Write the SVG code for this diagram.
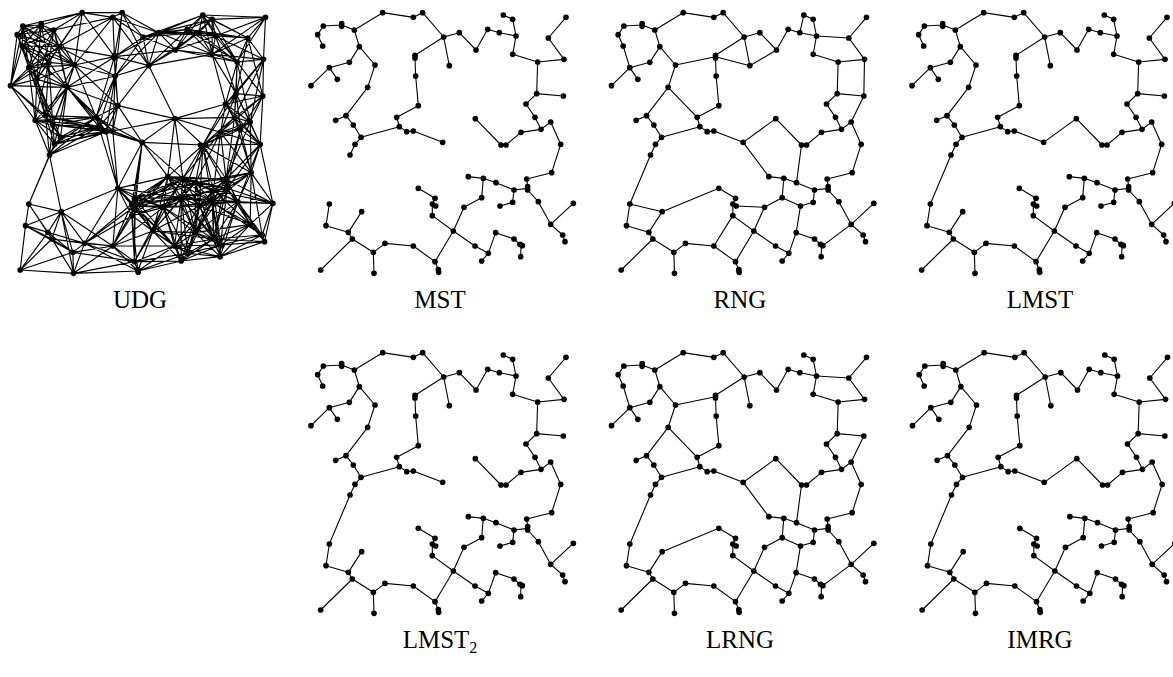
<svg xmlns="http://www.w3.org/2000/svg" xmlns:xlink="http://www.w3.org/1999/xlink" width="1173" height="677" viewBox="0 0 1173 677">
<style>
.e{fill:none;stroke:#000;stroke-width:3.3;stroke-linecap:round;stroke-linejoin:round}
.u{fill:none;stroke:#000;stroke-width:3.4;stroke-linecap:round;stroke-linejoin:round}
circle{fill:#000}
.l{font-family:"Liberation Serif","Times New Roman",serif;font-size:25px;fill:#000;text-anchor:middle}
</style>
<defs>
<g id="nodes">
<circle id="n-A" cx="236" cy="38" r="8.5"/><circle id="n-B" cx="328" cy="52" r="8.5"/><circle id="n-D" cx="356" cy="38" r="8.5"/><circle id="n-E" cx="419" cy="111" r="8.5"/><circle id="n-F" cx="466" cy="98" r="8.5"/><circle id="n-H" cx="436" cy="197" r="8.5"/><circle id="n-I" cx="516" cy="150" r="8.5"/><circle id="n-J" cx="551" cy="88" r="8.5"/><circle id="n-K" cx="586" cy="98" r="8.5"/><circle id="n-L" cx="636" cy="108" r="8.5"/><circle id="n-M" cx="626" cy="58" r="8.5"/><circle id="n-N" cx="598" cy="45" r="8.5"/><circle id="n-O" cx="626" cy="163" r="8.5"/><circle id="n-P" cx="701" cy="186" r="8.5"/><circle id="n-Q" cx="780" cy="178" r="8.5"/><circle id="n-R" cx="733" cy="114" r="8.5"/><circle id="n-S" cx="786" cy="52" r="8.5"/><circle id="n-T" cx="698" cy="281" r="8.5"/><circle id="n-U" cx="778" cy="288" r="8.5"/><circle id="n-V" cx="666" cy="312" r="8.5"/><circle id="n-W" cx="693" cy="352" r="8.5"/><circle id="n-X" cx="711" cy="388" r="8.5"/><circle id="n-Y" cx="740" cy="366" r="8.5"/><circle id="n-AD" cx="651" cy="397" r="8.5"/><circle id="n-AF" cx="514" cy="356" r="8.5"/><circle id="n-AG" cx="416" cy="427" r="8.5"/><circle id="n-AE1" cx="591" cy="435" r="8.5"/><circle id="n-AE2" cx="606" cy="435" r="8.5"/><circle id="n-Z" cx="770" cy="433" r="8.5"/><circle id="n-AA" cx="743" cy="518" r="8.5"/><circle id="n-AB" cx="668" cy="537" r="8.5"/><circle id="n-AC1" cx="671" cy="560" r="8.5"/><circle id="n-AC2" cx="671" cy="570" r="8.5"/><circle id="n-BG" cx="493" cy="530" r="8.5"/><circle id="n-BF" cx="538" cy="535" r="8.5"/><circle id="n-BH" cx="576" cy="548" r="8.5"/><circle id="n-BI" cx="630" cy="570" r="8.5"/><circle id="n-BJ" cx="626" cy="607" r="8.5"/><circle id="n-BK" cx="588" cy="618" r="8.5"/><circle id="n-BE" cx="533" cy="593" r="8.5"/><circle id="n-BD" cx="480" cy="622" r="8.5"/><circle id="n-BC" cx="448" cy="693" r="8.5"/><circle id="n-BT" cx="513" cy="738" r="8.5"/><circle id="n-BU" cx="553" cy="760" r="8.5"/><circle id="n-BV" cx="533" cy="783" r="8.5"/><circle id="n-BW" cx="575" cy="698" r="8.5"/><circle id="n-BX" cx="630" cy="717" r="8.5"/><circle id="n-BY1" cx="648" cy="733" r="8.5"/><circle id="n-BY2" cx="655" cy="737" r="8.5"/><circle id="n-BZ" cx="650" cy="770" r="8.5"/><circle id="n-BL" cx="703" cy="605" r="8.5"/><circle id="n-BM" cx="740" cy="673" r="8.5"/><circle id="n-BN" cx="808" cy="610" r="8.5"/><circle id="n-BO" cx="776" cy="705" r="8.5"/><circle id="n-BP" cx="783" cy="725" r="8.5"/><circle id="n-C" cx="151" cy="90" r="8.5"/><circle id="n-CA1" cx="113" cy="71" r="8.5"/><circle id="n-CA2" cx="113" cy="79" r="8.5"/><circle id="n-CB" cx="58" cy="78" r="8.5"/><circle id="n-CC" cx="41" cy="104" r="8.5"/><circle id="n-CD" cx="56" cy="138" r="8.5"/><circle id="n-CE" cx="166" cy="140" r="8.5"/><circle id="n-CF" cx="213" cy="195" r="8.5"/><circle id="n-CG" cx="191" cy="262" r="8.5"/><circle id="n-CH" cx="126" cy="347" r="8.5"/><circle id="n-CI" cx="95" cy="361" r="8.5"/><circle id="n-CJ" cx="148" cy="375" r="8.5"/><circle id="n-AN" cx="171" cy="412" r="8.5"/><circle id="n-CK" cx="136" cy="187" r="8.5"/><circle id="n-CL" cx="76" cy="203" r="8.5"/><circle id="n-CM" cx="100" cy="238" r="8.5"/><circle id="n-CN" cx="21" cy="257" r="8.5"/><circle id="n-G1" cx="333" cy="166" r="8.5"/><circle id="n-G2" cx="333" cy="174" r="8.5"/><circle id="n-AM" cx="335" cy="228" r="8.5"/><circle id="n-AL" cx="343" cy="317" r="8.5"/><circle id="n-AK" cx="278" cy="352" r="8.5"/><circle id="n-AJ" cx="286" cy="380" r="8.5"/><circle id="n-AI" cx="308" cy="395" r="8.5"/><circle id="n-AH" cx="328" cy="393" r="8.5"/><circle id="n-AO" cx="153" cy="433" r="8.5"/><circle id="n-AP" cx="138" cy="465" r="8.5"/><circle id="n-AQ" cx="76" cy="612" r="8.5"/><circle id="n-AR" cx="66" cy="677" r="8.5"/><circle id="n-AS" cx="133" cy="697" r="8.5"/><circle id="n-AT" cx="173" cy="635" r="8.5"/><circle id="n-AU" cx="145" cy="717" r="8.5"/><circle id="n-AV" cx="50" cy="810" r="8.5"/><circle id="n-AW" cx="208" cy="757" r="8.5"/><circle id="n-AX" cx="210" cy="820" r="8.5"/><circle id="n-AY" cx="243" cy="730" r="8.5"/><circle id="n-AZ" cx="328" cy="738" r="8.5"/><circle id="n-BA" cx="393" cy="785" r="8.5"/><circle id="n-BB1" cx="403" cy="809" r="8.5"/><circle id="n-BB2" cx="404" cy="817" r="8.5"/><circle id="n-BS1" cx="343" cy="565" r="8.5"/><circle id="n-BS2" cx="393" cy="595" r="8.5"/><circle id="n-BS3" cx="385" cy="612" r="8.5"/><circle id="n-BS4" cx="395" cy="618" r="8.5"/><circle id="n-BS5" cx="385" cy="647" r="8.5"/>
</g>
<path id="mst" class="e" d="M236 38L328 52L356 38L419 111M236 38L151 90L113 75L58 78L41 104L56 138M151 90L166 140L213 195L191 262L126 347L95 361M126 347L148 375L171 412L153 433L138 465M166 140L136 187L76 203L100 238M76 203L21 257M419 111L466 98L516 150L551 88L586 98L636 108L626 58L598 45M636 108L626 163L701 186L780 178L733 114L786 52M701 186L698 281L778 288M698 281L666 312L693 352L711 388L740 366L770 433L743 518L668 537L671 560M711 388L651 397L606 435M591 435L514 356M419 111L333 166M333 174L335 228L343 317L278 352L286 380L308 395L328 393L416 427M286 380L171 412M419 111L436 197M76 612L66 677L133 697L173 635M133 697L145 717L50 810M145 717L208 757L210 820M208 757L243 730L328 738L393 785L403 809M393 785L448 693L385 647L385 612L393 595L343 565M385 612L395 618M448 693L480 622L533 593L538 535L493 530M538 535L576 548L630 570L671 565M630 570L626 607L588 618M671 570L703 605L740 673L808 610M740 673L776 705L783 725M448 693L513 738L553 760L533 783M553 760L575 698L630 717L648 733M651 735L650 770M113 71L113 79M333 166L333 174M591 435L606 435M671 560L671 570M648 733L655 737M403 809L404 817"/>
<path id="lx1" class="e" d="M138 465L76 612"/>
<path id="lx2" class="e" d="M416 427L514 356"/>
<path id="rx" class="e" d="M56 138L76 203M213 195L333 170M191 262L278 352M636 108L733 114M778 288L740 366M416 427L493 530M591 435L576 548M173 635L343 565M533 593L588 618L575 698M655 737L740 673"/>
<path id="rx2" class="e" d="M333 170L436 197L516 150M598 45L586 98M780 178L778 288M76 612L173 635M328 738L385 647M395 618L480 622"/>
</defs>

<g id="panel-udg" transform="translate(3.5 0) scale(0.33333)">
<g id="udg-connectors">
<path class="u" d="M328 52L236 38L356 38M151 90L236 38L113 75M58 78L236 38L166 140M213 195L236 38L136 187M236 38L333 170
M356 38L328 52L419 111M466 98L328 52L436 197M151 90L328 52L166 140M213 195L328 52L333 170M328 52L335 228
M419 111L356 38L466 98M436 197L356 38L333 170M356 38L335 228
M466 98L419 111L551 88M586 98L419 111L598 45M436 197L419 111L516 150M333 170L419 111L335 228
M551 88L466 98L586 98M636 108L466 98L626 58M598 45L466 98L436 197M516 150L466 98L626 163M333 170L466 98L335 228
M516 150L436 197L551 88M586 98L436 197L626 163M514 356L436 197L333 170M335 228L436 197L343 317
M551 88L516 150L586 98M636 108L516 150L626 58M598 45L516 150L626 163M701 186L516 150L333 170
M586 98L551 88L636 108M626 58L551 88L598 45M626 163L551 88L701 186M551 88L733 114
M636 108L586 98L626 58M598 45L586 98L626 163M701 186L586 98L733 114
M626 58L636 108L598 45M626 163L636 108L701 186M733 114L636 108L786 52M780 178L636 108L698 281
M598 45L626 58L626 163M701 186L626 58L733 114M626 58L786 52
M626 163L598 45L701 186M733 114L598 45L786 52
M701 186L626 163L780 178M733 114L626 163L786 52M698 281L626 163L666 312
M780 178L701 186L733 114M786 52L701 186L698 281M778 288L701 186L666 312M693 352L701 186L740 366
M733 114L780 178L786 52M698 281L780 178L778 288M666 312L780 178L693 352M780 178L740 366
M786 52L733 114L698 281M733 114L778 288
M778 288L698 281L666 312M693 352L698 281L711 388M740 366L698 281L651 397M598 435L698 281L770 433
M666 312L778 288L693 352M711 388L778 288L740 366M651 397L778 288L770 433
M693 352L666 312L711 388M740 366L666 312L651 397M514 356L666 312L598 435M666 312L770 433
M711 388L693 352L740 366M651 397L693 352L770 433M598 435L693 352L514 356M743 518L693 352L668 537
M740 366L711 388L651 397M770 433L711 388L598 435M743 518L711 388L668 537M711 388L671 565
M651 397L740 366L770 433M598 435L740 366L743 518M740 366L668 537
M514 356L651 397L598 435M770 433L651 397L743 518M668 537L651 397L671 565M630 570L651 397L576 548M651 397L538 535
M416 427L514 356L598 435M493 530L514 356L538 535M343 317L514 356L328 393
M598 435L416 427L343 317M278 352L416 427L286 380M308 395L416 427L328 393M493 530L416 427L538 535M343 565L416 427L393 595M385 612L416 427L395 618
M770 433L598 435L743 518M668 537L598 435L671 565M493 530L598 435L538 535M576 548L598 435L630 570M533 593L598 435L626 607M598 435L588 618
M743 518L770 433L668 537M671 565L770 433L703 605M770 433L808 610
M668 537L743 518L671 565M630 570L743 518L576 548M626 607L743 518L588 618M703 605L743 518L740 673M808 610L743 518L776 705
M671 565L668 537L630 570M576 548L668 537L538 535M493 530L668 537L533 593M626 607L668 537L588 618M703 605L668 537L740 673M808 610L668 537L575 698M668 537L630 717
M630 570L671 565L576 548M538 535L671 565L493 530M533 593L671 565L626 607M588 618L671 565L703 605M740 673L671 565L808 610M776 705L671 565L575 698M630 717L671 565L651 735
M538 535L493 530L576 548M630 570L493 530L533 593M588 618L493 530L626 607M480 622L493 530L448 693M575 698L493 530L343 565M393 595L493 530L385 612M395 618L493 530L385 647
M576 548L538 535L630 570M533 593L538 535L626 607M588 618L538 535L480 622M448 693L538 535L575 698M703 605L538 535L393 595M385 612L538 535L395 618M538 535L385 647
M630 570L576 548L533 593M626 607L576 548L588 618M480 622L576 548L448 693M575 698L576 548L630 717M703 605L576 548L393 595M576 548L395 618
M533 593L630 570L626 607M588 618L630 570L480 622M575 698L630 570L630 717M651 735L630 570L703 605M740 673L630 570L808 610
M533 593L626 607L588 618M480 622L626 607L575 698M630 717L626 607L651 735M650 770L626 607L703 605M740 673L626 607L808 610M776 705L626 607L513 738M626 607L553 760
M533 593L588 618L480 622M448 693L588 618L575 698M630 717L588 618L651 735M650 770L588 618L703 605M740 673L588 618L513 738M553 760L588 618L533 783M588 618L395 618
M480 622L533 593L448 693M575 698L533 593L630 717M651 735L533 593L703 605M513 738L533 593L553 760M533 783L533 593L343 565M393 595L533 593L385 612M395 618L533 593L385 647
M448 693L480 622L575 698M630 717L480 622L513 738M553 760L480 622L533 783M343 565L480 622L393 595M385 612L480 622L395 618M385 647L480 622L328 738M480 622L393 785
M575 698L448 693L630 717M513 738L448 693L553 760M533 783L448 693L343 565M393 595L448 693L385 612M395 618L448 693L385 647M328 738L448 693L393 785M448 693L403 813
M553 760L513 738L533 783M575 698L513 738L630 717M651 735L513 738L650 770M393 595L513 738L385 612M395 618L513 738L385 647M328 738L513 738L393 785M513 738L403 813
M533 783L553 760L575 698M630 717L553 760L651 735M650 770L553 760L393 785M553 760L403 813
M575 698L533 783L630 717M651 735L533 783L650 770M393 785L533 783L403 813
M630 717L575 698L651 735M650 770L575 698L703 605M575 698L740 673
M651 735L630 717L650 770M703 605L630 717L740 673M776 705L630 717L783 725
M650 770L651 735L703 605M740 673L651 735L776 705M651 735L783 725
M703 605L650 770L740 673M776 705L650 770L783 725
M740 673L703 605L808 610M776 705L703 605L783 725
M808 610L740 673L776 705M740 673L783 725
M776 705L808 610L783 725M776 705L783 725
M113 75L151 90L58 78M41 104L151 90L56 138M166 140L151 90L213 195M191 262L151 90L136 187M76 203L151 90L100 238
M58 78L113 75L41 104M56 138L113 75L166 140M213 195L113 75L136 187M76 203L113 75L100 238
M41 104L58 78L56 138M166 140L58 78L213 195M136 187L58 78L76 203M100 238L58 78L21 257
M56 138L41 104L166 140M213 195L41 104L136 187M76 203L41 104L100 238M41 104L21 257
M166 140L56 138L213 195M191 262L56 138L136 187M76 203L56 138L100 238M56 138L21 257
M213 195L166 140L191 262M136 187L166 140L76 203M100 238L166 140L21 257M333 170L166 140L335 228
M191 262L213 195L136 187M76 203L213 195L100 238M126 347L213 195L148 375M333 170L213 195L335 228M343 317L213 195L278 352
M136 187L191 262L76 203M100 238L191 262L21 257M126 347L191 262L95 361M148 375L191 262L171 412M153 433L191 262L333 170M335 228L191 262L343 317M278 352L191 262L286 380M308 395L191 262L328 393
M95 361L126 347L148 375M171 412L126 347L153 433M138 465L126 347L136 187M76 203L126 347L100 238M21 257L126 347L278 352M286 380L126 347L308 395
M148 375L95 361L171 412M153 433L95 361L138 465M136 187L95 361L76 203M100 238L95 361L21 257M278 352L95 361L286 380
M171 412L148 375L153 433M138 465L148 375L136 187M76 203L148 375L100 238M21 257L148 375L278 352M286 380L148 375L308 395M148 375L328 393
M153 433L171 412L138 465M100 238L171 412L278 352M286 380L171 412L308 395M171 412L328 393
M76 203L136 187L100 238M136 187L21 257M100 238L76 203L21 257M100 238L21 257
M335 228L333 170L343 317M333 170L278 352
M343 317L335 228L278 352M286 380L335 228L308 395M335 228L328 393
M278 352L343 317L286 380M308 395L343 317L328 393
M286 380L278 352L308 395M328 393L278 352L153 433M278 352L138 465
M308 395L286 380L328 393M153 433L286 380L138 465M286 380L343 565
M328 393L308 395L153 433M138 465L308 395L343 565
M153 433L328 393L343 565
M138 465L153 433L76 612
M76 612L138 465L173 635
M66 677L76 612L133 697M173 635L76 612L145 717
M133 697L66 677L173 635M145 717L66 677L50 810M208 757L66 677L243 730
M173 635L133 697L145 717M50 810L133 697L208 757M210 820L133 697L243 730
M145 717L173 635L208 757M210 820L173 635L243 730M328 738L173 635L343 565
M50 810L145 717L208 757M210 820L145 717L243 730M145 717L328 738
M208 757L50 810L210 820
M210 820L208 757L243 730M328 738L208 757L393 785
M243 730L210 820L328 738M393 785L210 820L403 813
M328 738L243 730L393 785M403 813L243 730L343 565M385 647L243 730L385 612M243 730L395 618
M393 785L328 738L403 813M343 565L328 738L393 595M385 612L328 738L395 618M328 738L385 647
M403 813L393 785L393 595M385 612L393 785L395 618M393 785L385 647
M403 813L385 647
M393 595L343 565L385 612M395 618L343 565L385 647
M385 612L393 595L395 618M393 595L385 647
M395 618L385 612L385 647M395 618L385 647"/>
</g>
<use href="#nodes"/>
</g>

<g id="panel-mst" transform="translate(304 0) scale(0.33333)">
<g id="mst-connectors"><use href="#mst"/></g>
<use href="#nodes"/>
</g>

<g id="panel-rng" transform="translate(604.5 0) scale(0.33333)">
<g id="rng-connectors"><use href="#mst"/><use href="#lx1"/><use href="#lx2"/><use href="#rx"/><use href="#rx2"/></g>
<use href="#nodes"/>
</g>

<g id="panel-lmst" transform="translate(905 0) scale(0.33333)">
<g id="lmst-connectors"><use href="#mst"/><use href="#lx1"/><use href="#lx2"/></g>
<use href="#nodes"/>
</g>

<g id="panel-lmst2" transform="translate(304 340) scale(0.33333)">
<g id="lmst2-connectors"><use href="#mst"/><use href="#lx1"/></g>
<use href="#nodes"/>
</g>

<g id="panel-lrng" transform="translate(604.5 340) scale(0.33333)">
<g id="lrng-connectors"><use href="#mst"/><use href="#lx1"/><use href="#lx2"/><use href="#rx"/></g>
<use href="#nodes"/>
</g>

<g id="panel-imrg" transform="translate(905.5 340) scale(0.33333)">
<g id="imrg-connectors"><use href="#mst"/><use href="#lx1"/><use href="#lx2"/></g>
<use href="#nodes"/>
</g>

<g id="labels">
<text class="l" x="140" y="308">UDG</text>
<text class="l" x="440" y="308">MST</text>
<text class="l" x="740" y="308">RNG</text>
<text class="l" x="1040" y="308">LMST</text>
<text class="l" x="440" y="648">LMST<tspan font-size="16" dy="5">2</tspan></text>
<text class="l" x="740" y="648">LRNG</text>
<text class="l" x="1040" y="648">IMRG</text>
</g>
</svg>
